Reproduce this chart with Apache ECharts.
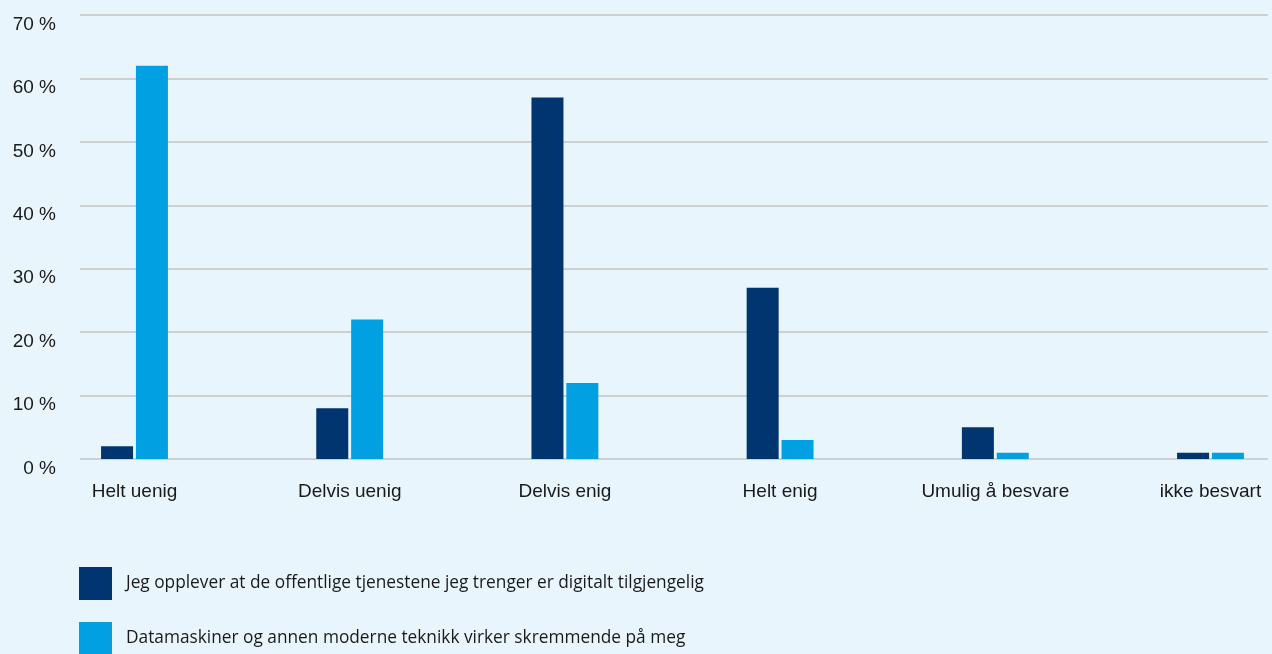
<!DOCTYPE html>
<html><head><meta charset="utf-8">
<script src="https://cdn.jsdelivr.net/npm/echarts@6/dist/echarts.min.js"></script>
<style>html,body{margin:0;padding:0;background:#E8F5FD;}#c{width:1272px;height:654px;}</style>
</head><body><div id="c"></div>
<script>
const categories = ['Helt uenig','Delvis uenig','Delvis enig','Helt enig','Umulig å besvare','ikke besvart'];
const seriesNames = ['Jeg opplever at de offentlige tjenestene jeg trenger er digitalt tilgjengelig','Datamaskiner og annen moderne teknikk virker skremmende på meg'];
const tilgjengelig = [2, 8, 57, 27, 5, 1];
const skremmende = [62, 22, 12, 3, 1, 1];
const yTicks = [0, 10, 20, 30, 40, 50, 60, 70];

const chart = echarts.init(document.getElementById('c'));
const font = 'Liberation Sans, Arial, sans-serif';
const legendText = {fontFamily: 'Open Sans, Noto Sans, sans-serif', fontSize: 17.3, color: '#1a1a1a', padding: [4, 0, 0, 9]};
chart.setOption({
  backgroundColor: '#E8F5FD',
  animation: false,
  grid: [
    {left: 80, right: 4, top: 15, bottom: 195},
    {left: 134.5, right: 61.5, top: 15, bottom: 195}
  ],
  xAxis: [
    {type: 'category', gridIndex: 0, data: categories, show: false},
    {type: 'category', gridIndex: 1, data: categories, boundaryGap: false,
     axisLine: {show: false}, axisTick: {show: false}, splitLine: {show: false},
     axisLabel: {color: '#1a1a1a', fontSize: 19, fontFamily: font, margin: 23}}
  ],
  yAxis: [
    {type: 'value', gridIndex: 0, min: yTicks[0], max: yTicks[yTicks.length-1], interval: 10,
     axisLine: {show: false}, axisTick: {show: false},
     splitLine: {lineStyle: {color: '#CDD0D3', width: 2}},
     axisLabel: {formatter: v => v + ' %', color: '#1a1a1a', fontSize: 19, fontFamily: font, margin: 24,
                 verticalAlign: 'top', lineHeight: 19}},
    {type: 'value', gridIndex: 1, min: 0, max: 70, interval: 10, show: false}
  ],
  legend: [
    {left: 74, top: 562, itemWidth: 33, itemHeight: 33, icon: 'rect', data: [seriesNames[0]], textStyle: legendText},
    {left: 74, top: 617, itemWidth: 33, itemHeight: 33, icon: 'rect', data: [seriesNames[1]], textStyle: legendText}
  ],
  series: [
    {name: seriesNames[0], type: 'bar', xAxisIndex: 1, yAxisIndex: 1, data: tilgjengelig, clip: false,
     barWidth: 32, barGap: '9%', itemStyle: {color: '#003570'}},
    {name: seriesNames[1], type: 'bar', xAxisIndex: 1, yAxisIndex: 1, data: skremmende, clip: false,
     barWidth: 32, barGap: '9%', itemStyle: {color: '#00A0E3'}}
  ]
});
</script></body></html>
